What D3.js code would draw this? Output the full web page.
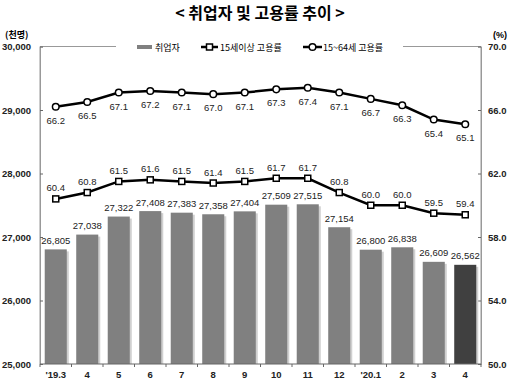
<!DOCTYPE html>
<html><head><meta charset="utf-8">
<script src="https://cdn.jsdelivr.net/npm/d3@7"></script>
<style>
body{margin:0;background:#fff;}
text{font-family:"Liberation Sans","Noto Sans CJK KR",sans-serif;}
</style></head>
<body><svg id="c" width="512" height="381"></svg>
<script>
const categories = ["'19.3","4","5","6","7","8","9","10","11","12","'20.1","2","3","4"];
const employed = [26805,27038,27322,27408,27383,27358,27404,27509,27515,27154,26800,26838,26609,26562];
const rate15 = [60.4,60.8,61.5,61.6,61.5,61.4,61.5,61.7,61.7,60.8,60.0,60.0,59.5,59.4];
const rate1564 = [66.2,66.5,67.1,67.2,67.1,67.0,67.1,67.3,67.4,67.1,66.7,66.3,65.4,65.1];
const leftTicks = [25000,26000,27000,28000,29000,30000];
const rightTicks = [50,54,58,62,66,70];

const svg = d3.select("#c");
const L=40, R=481, T=46.5, B=364;
const x = d3.scaleBand().domain(d3.range(categories.length)).range([L,R]).paddingInner(0.3).paddingOuter(0.15);
const yL = d3.scaleLinear().domain([25000,30000]).range([B,T]);
const yR = d3.scaleLinear().domain([50,70]).range([B,T]);
const fmt = d3.format(",");
const kfont = '"Noto Sans CJK KR",sans-serif';
const FS = 9.5;

// title
svg.append("text").attr("x",260).attr("y",19).attr("text-anchor","middle")
  .attr("font-size",16).attr("font-weight","bold").style("font-family",kfont).text("< 취업자 및 고용률 추이 >");
svg.append("text").attr("x",5).attr("y",38).attr("font-size",9).attr("font-weight","bold").style("font-family",kfont).text("(천명)");
svg.append("text").attr("x",493).attr("y",38).attr("font-size",9).attr("font-weight","bold").text("(%)");

// frame
svg.append("line").attr("x1",L).attr("x2",L).attr("y1",T).attr("y2",B).attr("stroke","#999");
svg.append("line").attr("x1",R).attr("x2",R).attr("y1",T).attr("y2",B).attr("stroke","#999");
svg.append("line").attr("x1",L).attr("x2",116).attr("y1",T).attr("y2",T).attr("stroke","#999");
svg.append("line").attr("x1",403).attr("x2",R).attr("y1",T).attr("y2",T).attr("stroke","#999");

// axes
const gl = svg.append("g").attr("transform",`translate(${L},0)`)
  .call(d3.axisRight(yL).tickValues(leftTicks).tickSize(3).tickFormat(""));
gl.select(".domain").attr("stroke","#999");
gl.selectAll(".tick line").attr("stroke","#666");
svg.selectAll(".ltl").data(leftTicks).join("text").attr("x",31).attr("y",d=>yL(d)+3.5)
  .attr("text-anchor","end").attr("font-size",FS).attr("font-weight","bold").attr("fill","#222").text(d=>fmt(d));
const gr = svg.append("g").attr("transform",`translate(${R},0)`)
  .call(d3.axisLeft(yR).tickValues(rightTicks).tickSize(3).tickFormat(""));
gr.select(".domain").attr("stroke","#999");
gr.selectAll(".tick line").attr("stroke","#666");
svg.selectAll(".rtl").data(rightTicks).join("text").attr("x",488).attr("y",d=>yR(d)+3.5)
  .attr("font-size",FS).attr("font-weight","bold").attr("fill","#222").text(d=>d.toFixed(1));

// bars with shadow
const bw = x.bandwidth();
svg.selectAll(".bs").data(employed).join("rect")
  .attr("x",(d,i)=>x(i)+2).attr("y",d=>yL(d)+2).attr("width",bw).attr("height",d=>B-yL(d)-2).attr("fill","#d0d0d0");
svg.selectAll(".bar").data(employed).join("rect")
  .attr("x",(d,i)=>x(i)).attr("y",d=>yL(d)).attr("width",bw).attr("height",d=>B-yL(d))
  .attr("fill",(d,i)=>i===employed.length-1?"#404040":"#808080");
svg.selectAll(".bl").data(employed).join("text")
  .attr("x",(d,i)=>x(i)+bw/2).attr("y",d=>yL(d)-5.5).attr("text-anchor","middle")
  .attr("font-size",FS).attr("fill","#222").text(d=>fmt(d));

// x axis
svg.append("line").attr("x1",L).attr("x2",R).attr("y1",B).attr("y2",B).attr("stroke","#666");
const xb = d3.range(categories.length+1).map(i=>L+i*(R-L)/categories.length);
svg.selectAll(".xt").data(xb).join("line").attr("x1",d=>d).attr("x2",d=>d).attr("y1",B).attr("y2",B+3).attr("stroke","#666");
svg.selectAll(".xl").data(categories).join("text")
  .attr("x",(d,i)=>x(i)+bw/2).attr("y",378).attr("text-anchor","middle")
  .attr("font-size",FS).attr("font-weight","bold").attr("fill","#222").text(d=>d);

// lines
const cx = i=>x(i)+bw/2;
const line = d3.line().x((d,i)=>cx(i)).y(d=>yR(d));
svg.append("path").datum(rate15).attr("d",line).attr("fill","none").attr("stroke","#000").attr("stroke-width",2.5);
svg.append("path").datum(rate1564).attr("d",line).attr("fill","none").attr("stroke","#000").attr("stroke-width",2.5);
svg.selectAll(".sq").data(rate15).join("rect")
  .attr("x",(d,i)=>cx(i)-3).attr("y",d=>yR(d)-3).attr("width",6).attr("height",6)
  .attr("fill","#fff").attr("stroke","#000").attr("stroke-width",1.5);
svg.selectAll(".ci").data(rate1564).join("circle")
  .attr("cx",(d,i)=>cx(i)).attr("cy",d=>yR(d)).attr("r",3.3)
  .attr("fill","#fff").attr("stroke","#000").attr("stroke-width",1.5);
svg.selectAll(".l15").data(rate15).join("text")
  .attr("x",(d,i)=>cx(i)).attr("y",d=>yR(d)-7.5).attr("text-anchor","middle")
  .attr("font-size",FS).attr("fill","#222").text(d=>d.toFixed(1));
svg.selectAll(".l64").data(rate1564).join("text")
  .attr("x",(d,i)=>cx(i)).attr("y",d=>yR(d)+17).attr("text-anchor","middle")
  .attr("font-size",FS).attr("fill","#222").text(d=>d.toFixed(1));

// legend
const lg = svg.append("g");
lg.append("rect").attr("x",137).attr("y",45).attr("width",15).attr("height",4).attr("fill","#808080");
lg.append("text").attr("x",155).attr("y",51).attr("font-size",9).style("font-family",kfont).text("취업자");
lg.append("line").attr("x1",201).attr("x2",218).attr("y1",47).attr("y2",47).attr("stroke","#000").attr("stroke-width",2.5);
lg.append("rect").attr("x",206.5).attr("y",44).attr("width",6).attr("height",6).attr("fill","#fff").attr("stroke","#000").attr("stroke-width",1.5);
lg.append("text").attr("x",220).attr("y",51).attr("font-size",9).style("font-family",kfont).text("15세이상 고용률");
lg.append("line").attr("x1",303).attr("x2",322).attr("y1",47).attr("y2",47).attr("stroke","#000").attr("stroke-width",2.5);
lg.append("circle").attr("cx",312.5).attr("cy",47).attr("r",3.3).attr("fill","#fff").attr("stroke","#000").attr("stroke-width",1.5);
lg.append("text").attr("x",323).attr("y",51).attr("font-size",9).style("font-family",kfont).text("15~64세 고용률");
</script></body></html>
